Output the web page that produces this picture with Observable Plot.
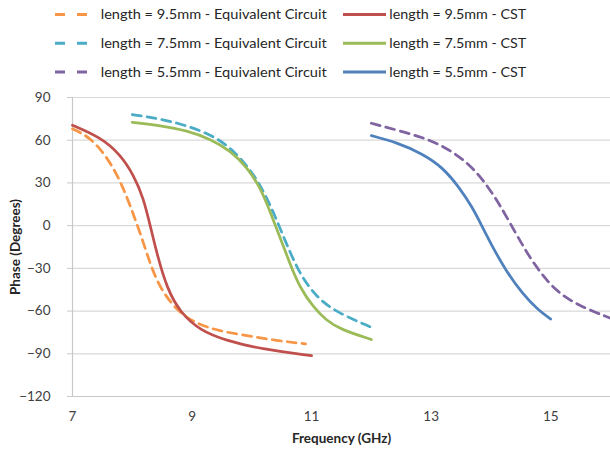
<!DOCTYPE html>
<html><head><meta charset="utf-8">
<script src="https://cdn.jsdelivr.net/npm/d3@7"></script>
<script src="https://cdn.jsdelivr.net/npm/@observablehq/plot@0.6"></script>
<style>
body{margin:0;background:#fff;font-family:Lato,"Open Sans",sans-serif}
#legend svg,#chart svg{display:block}
</style>
</head><body>
<div id="legend"></div>
<div id="chart"></div>
<script>
// ---- data ----
const seriesNames = [
  "length = 9.5mm - Equivalent Circuit", "length = 9.5mm - CST",
  "length = 7.5mm - Equivalent Circuit", "length = 7.5mm - CST",
  "length = 5.5mm - Equivalent Circuit", "length = 5.5mm - CST"
];
const eq95_f = [7.0,7.3,7.58,7.8,7.97,8.14,8.3,8.47,8.75,9.03,9.42,9.92,10.42,10.9];
const eq95_p = [68,62,48,31.6,13.5,-6,-27,-44.5,-59.7,-68,-73.8,-77.3,-80.8,-83];
const cst95_f = [7.0,7.47,7.8,8.03,8.19,8.3,8.42,8.58,8.8,9.14,9.58,10.14,11.0];
const cst95_p = [70.5,62,50,35,19,0,-21,-44,-61,-73.8,-80.8,-86.6,-91.3];
const eq75_f = [8.0,8.47,8.92,9.42,9.75,10.03,10.25,10.42,10.58,10.8,11.08,11.42,12.0];
const eq75_p = [78,75,70.3,62,50.4,36.3,19.9,3.5,-12.9,-33.9,-50.4,-60.9,-71.4];
const cst75_f = [8.0,8.47,8.92,9.3,9.64,9.92,10.14,10.3,10.47,10.64,10.8,11.03,11.25,11.47,12.0];
const cst75_p = [72.6,70.3,66.7,60.9,52.7,41,26.9,10.5,-8.2,-27,-43.3,-57.4,-66.7,-72.6,-80];
const eq55_f = [12.0,12.42,12.86,13.25,13.64,13.92,14.14,14.36,14.58,14.8,15.08,15.42,15.75,16.0];
const eq55_p = [71.9,67.2,62,55,43.3,29.3,15.2,-1.2,-17.6,-31.6,-45.7,-55,-60.9,-65];
const cst55_f = [12.0,12.42,12.86,13.19,13.47,13.69,13.86,14.03,14.25,14.53,14.8,15.0];
const cst55_p = [63.2,58.5,50.4,41,26.9,12.9,-1.2,-15.2,-31.6,-48,-59.7,-65.6];
const xTicks = [7,9,11,13,15];
const yTicks = [-120,-90,-60,-30,0,30,60,90];

// ---- styles ----
const colors = ["#F79646","#C0504D","#4BACC6","#9BBB59","#8064A2","#4F81BD"];
const dashed = [true,false,true,false,true,false];

const seriesData = [[eq95_f,eq95_p],[cst95_f,cst95_p],[eq75_f,eq75_p],[cst75_f,cst75_p],[eq55_f,eq55_p],[cst55_f,cst55_p]]
  .map(([f,p],k) => f.map((x,i) => ({f:x, p:p[i], name:seriesNames[k]})));

// ---- legend ----
const lg = d3.select("#legend").append("svg").attr("width",610).attr("height",85)
  .style("font-family","Lato, 'Open Sans', sans-serif").style("font-size","14px");
const textLen = [226,137];
seriesNames.forEach((name,k) => {
  const row = Math.floor(k/2), col = k%2;
  const cy = 14 + row*28.8;
  const g = lg.append("g");
  if (col === 0) {
    g.append("line").attr("x1",55).attr("x2",87).attr("y1",cy+0.5).attr("y2",cy+0.5)
      .attr("stroke",colors[k]).attr("stroke-width",3).attr("stroke-dasharray","10,12");
    g.append("text").attr("x",100.7).attr("y",cy).attr("dy","0.36em").attr("fill","#262626")
      .attr("textLength",textLen[0]).attr("lengthAdjust","spacingAndGlyphs").text(name);
  } else {
    g.append("line").attr("x1",343).attr("x2",386).attr("y1",cy+0.5).attr("y2",cy+0.5)
      .attr("stroke",colors[k]).attr("stroke-width",3);
    g.append("text").attr("x",389.3).attr("y",cy).attr("dy","0.36em").attr("fill","#262626")
      .attr("textLength",textLen[1]).attr("lengthAdjust","spacingAndGlyphs").text(name);
  }
});

// ---- chart ----
const chart = Plot.plot({
  width: 610, height: 367,
  marginTop: 12, marginBottom: 56, marginLeft: 72, marginRight: 0,
  style: {fontFamily: "Lato, 'Open Sans', sans-serif", fontSize: "13.5px", color: "#404040", background: "#fff", overflow: "visible"},
  x: {domain: [7,16]},
  y: {domain: [-120,90]},
  marks: [
    Plot.gridY(yTicks, {stroke: "#d9d9d9", strokeOpacity: 1, strokeWidth: 1.2}),
    Plot.ruleX([7], {stroke: "#c8c8c8", strokeWidth: 1.2}),
    Plot.ruleY([-120], {stroke: "#c8c8c8", strokeWidth: 1.2}),
    Plot.axisY(yTicks, {tickSize: 5, tickPadding: 17, label: null, stroke: "#c8c8c8"}),
    Plot.axisX(xTicks, {tickSize: 0, tickPadding: 15, label: null}),
    ...seriesData.map((d,k) => Plot.line(d, {
      x: "f", y: "p", stroke: colors[k], strokeWidth: 2.75,
      strokeDasharray: dashed[k] ? "9,6" : null, curve: "basis"
    })),
    Plot.text(["Phase (Degrees)"], {frameAnchor: "left", dx: -57, rotate: -90, textAnchor: "middle", lineAnchor: "middle", fontWeight: "bold", fill: "#262626", fontSize: 13.5}),
    Plot.text(["Frequency (GHz)"], {frameAnchor: "bottom", dy: 42, textAnchor: "middle", lineAnchor: "middle", fontWeight: "bold", fill: "#262626", fontSize: 13.5})
  ]
});
document.getElementById("chart").appendChild(chart);
</script>
</body></html>
